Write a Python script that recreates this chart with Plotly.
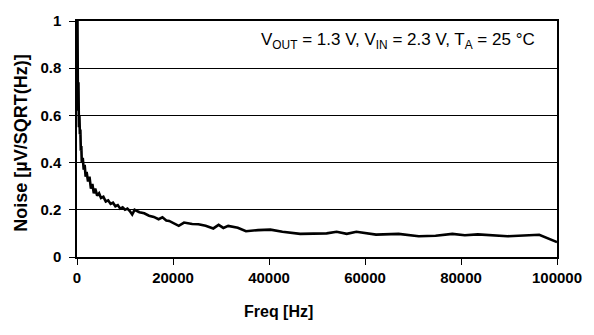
import plotly.graph_objects as go

freq = [0, 100, 200, 300, 400, 500, 600, 700, 800, 900, 1000, 1200, 1400, 1600, 1800,
        2000, 2300, 2600, 2900, 3200, 3500, 3800, 4200, 4600, 5000, 5500, 6000, 6500,
        7000, 7500, 8000, 8500, 9000, 9500, 10000, 10500, 11000, 11500, 12000, 13000,
        14000, 15000, 16000, 17000, 17800, 18600, 19200, 20500, 21200, 22300, 24000,
        25300, 26800, 28400, 29500, 30500, 31500, 33500, 35200, 37700, 40300, 42800,
        46500, 52000, 54100, 56200, 58200, 62300, 67000, 71200, 74700, 78200, 80800,
        83500, 89700, 96300, 100000]
noise = [1.0, 1.0, 0.62, 0.74, 0.55, 0.60, 0.52, 0.54, 0.45, 0.47, 0.40, 0.42, 0.37, 0.39, 0.34,
         0.36, 0.32, 0.34, 0.29, 0.31, 0.27, 0.29, 0.26, 0.27, 0.25, 0.255, 0.235, 0.24,
         0.225, 0.23, 0.215, 0.22, 0.205, 0.21, 0.20, 0.205, 0.195, 0.18, 0.20, 0.19,
         0.185, 0.175, 0.17, 0.16, 0.168, 0.155, 0.153, 0.14, 0.132, 0.146, 0.140,
         0.139, 0.132, 0.121, 0.136, 0.123, 0.132, 0.124, 0.109, 0.114, 0.116, 0.107,
         0.098, 0.100, 0.107, 0.098, 0.107, 0.095, 0.098, 0.088, 0.090, 0.098, 0.092,
         0.096, 0.088, 0.094, 0.063]

x_ticks = [0, 20000, 40000, 60000, 80000, 100000]
y_ticks = [0, 0.2, 0.4, 0.6, 0.8, 1]
y_tick_text = ["0", "0.2", "0.4", "0.6", "0.8", "1"]

FONT = "Liberation Sans, Arial, sans-serif"

fig = go.Figure()
fig.add_trace(go.Scatter(x=freq, y=noise, mode="lines",
                         line=dict(color="black", width=2.6), showlegend=False))

fig.update_layout(
    width=594, height=335,
    margin=dict(l=77, r=31, t=15, b=78),
    paper_bgcolor="white", plot_bgcolor="white",
    font=dict(family=FONT, color="black"),
    xaxis=dict(
        range=[0, 100000], tickvals=x_ticks,
        ticktext=["<b>%d</b>" % v for v in x_ticks],
        ticks="outside", ticklen=6, tickwidth=1, tickcolor="black",
        showline=True, linecolor="black", linewidth=1.5, mirror=True,
        showgrid=False, zeroline=False,
        tickfont=dict(family=FONT, size=15, color="black"),
    ),
    yaxis=dict(
        range=[0, 1], tickvals=y_ticks,
        ticktext=["<b>%s</b>" % t for t in y_tick_text],
        ticks="outside", ticklen=6, tickwidth=1, tickcolor="black",
        ticklabelstandoff=5,
        showline=True, linecolor="black", linewidth=1.5, mirror=True,
        showgrid=True, gridcolor="black", gridwidth=1, zeroline=False,
        tickfont=dict(family=FONT, size=15, color="black"),
    ),
    annotations=[
        dict(text="V<sub>OUT</sub> = 1.3 V, V<sub>IN</sub> = 2.3 V, T<sub>A</sub> = 25 °C",
             xref="paper", yref="paper", x=0.959, y=0.915, xanchor="right", yanchor="middle",
             showarrow=False, font=dict(family=FONT, size=17, color="black")),
        dict(text="<b>Freq [Hz]</b>", xref="paper", yref="paper", x=0.42, y=0,
             xanchor="center", yanchor="middle", yshift=-54, showarrow=False,
             font=dict(family=FONT, size=16, color="black")),
        dict(text="<b>Noise [µV/SQRT(Hz)]</b>", xref="paper", yref="paper", x=0, y=0.48,
             xanchor="center", yanchor="middle", xshift=-56, textangle=-90, showarrow=False,
             font=dict(family=FONT, size=18, color="black")),
    ],
)

fig.write_html("out.html")
